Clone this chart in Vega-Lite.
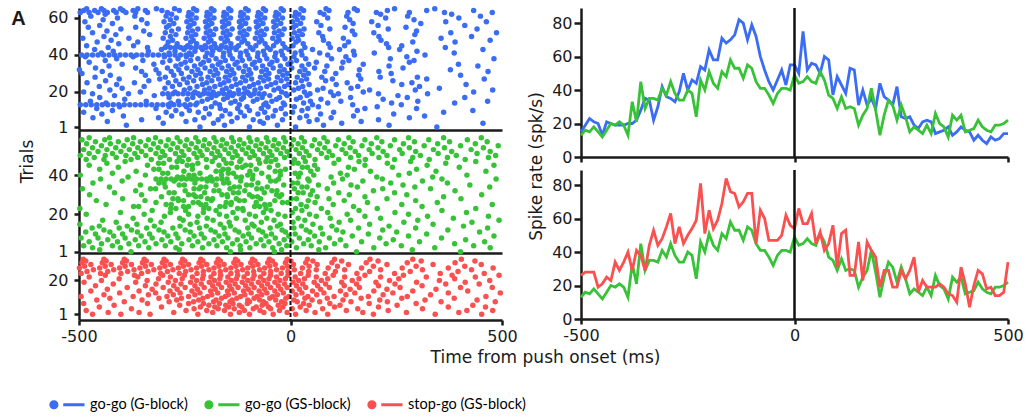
{
"$schema":"https://vega.github.io/schema/vega-lite/v6.json",
"background":"white",
"padding":{"left":10,"top":6,"right":5,"bottom":5},
"bounds":"flush",
"spacing":502,
"config":{
 "view":{"stroke":null},
 "font":"DejaVu Sans",
 "axis":{"grid":false,"domainColor":"#1a1a1a","domainWidth":2.5,"tickColor":"#1a1a1a","tickWidth":2.5,"labelFont":"DejaVu Sans","labelFontSize":16,"labelColor":"#1a1a1a","titleFont":"DejaVu Sans","titleFontSize":17,"titleFontWeight":"normal","titleColor":"#1a1a1a","labelFlush":false,"labelOverlap":false,"labelExpr":"datum.value + ''"}
},
"datasets":{
"B":[
{"t":-214,"r":1},{"t":-97,"r":1},{"t":12,"r":1},{"t":346,"r":1},
{"t":-388,"r":2},{"t":-156,"r":2},{"t":-31,"r":2},{"t":78,"r":2},{"t":233,"r":2},
{"t":-301,"r":3},{"t":-182,"r":3},{"t":-64,"r":3},{"t":121,"r":3},{"t":455,"r":3},
{"t":-433,"r":4},{"t":-247,"r":4},{"t":-139,"r":4},{"t":-72,"r":4},{"t":44,"r":4},{"t":167,"r":4},
{"t":-352,"r":5},{"t":-226,"r":5},{"t":-171,"r":5},{"t":-88,"r":5},{"t":-19,"r":5},{"t":63,"r":5},{"t":208,"r":5},
{"t":-467,"r":6},{"t":-312,"r":6},{"t":-205,"r":6},{"t":-126,"r":6},{"t":-54,"r":6},{"t":22,"r":6},{"t":96,"r":6},{"t":281,"r":6},
{"t":-395,"r":7},{"t":-281,"r":7},{"t":-162,"r":7},{"t":-109,"r":7},{"t":-41,"r":7},{"t":38,"r":7},{"t":149,"r":7},{"t":317,"r":7},
{"t":-446,"r":8},{"t":-257,"r":8},{"t":-192,"r":8},{"t":-143,"r":8},{"t":-77,"r":8},{"t":-12,"r":8},{"t":71,"r":8},{"t":244,"r":8},
{"t":-489,"r":9},{"t":-294,"r":9},{"t":-218,"r":9},{"t":-118,"r":9},{"t":-61,"r":9},{"t":5,"r":9},{"t":102,"r":9},{"t":362,"r":9},
{"t":-421,"r":10},{"t":-271,"r":10},{"t":-239,"r":10},{"t":-154,"r":10},{"t":-97,"r":10},{"t":-36,"r":10},{"t":27,"r":10},{"t":158,"r":10},{"t":431,"r":10},
{"t":-458,"r":11},{"t":-318,"r":11},{"t":-201,"r":11},{"t":-166,"r":11},{"t":-125,"r":11},{"t":-69,"r":11},{"t":-22,"r":11},{"t":41,"r":11},{"t":176,"r":11},{"t":298,"r":11},
{"t":-404,"r":12},{"t":-287,"r":12},{"t":-246,"r":12},{"t":-187,"r":12},{"t":-103,"r":12},{"t":-53,"r":12},{"t":9,"r":12},{"t":66,"r":12},{"t":205,"r":12},
{"t":-497,"r":13},{"t":-484,"r":13},{"t":-471,"r":13},{"t":-458,"r":13},{"t":-445,"r":13},{"t":-432,"r":13},{"t":-419,"r":13},{"t":-406,"r":13},{"t":-393,"r":13},{"t":-380,"r":13},{"t":-367,"r":13},{"t":-354,"r":13},{"t":-341,"r":13},{"t":-328,"r":13},{"t":-315,"r":13},{"t":-302,"r":13},{"t":-289,"r":13},{"t":-276,"r":13},{"t":-263,"r":13},{"t":-250,"r":13},{"t":-237,"r":13},{"t":-224,"r":13},{"t":-168,"r":13},{"t":-121,"r":13},{"t":-63,"r":13},{"t":-14,"r":13},{"t":52,"r":13},{"t":147,"r":13},{"t":262,"r":13},
{"t":-436,"r":14},{"t":-283,"r":14},{"t":-221,"r":14},{"t":-178,"r":14},{"t":-141,"r":14},{"t":-58,"r":14},{"t":-17,"r":14},{"t":31,"r":14},{"t":88,"r":14},{"t":239,"r":14},{"t":388,"r":14},
{"t":-473,"r":15},{"t":-341,"r":15},{"t":-265,"r":15},{"t":-209,"r":15},{"t":-131,"r":15},{"t":-88,"r":15},{"t":-44,"r":15},{"t":47,"r":15},{"t":119,"r":15},{"t":301,"r":15},{"t":466,"r":15},
{"t":-392,"r":16},{"t":-244,"r":16},{"t":-196,"r":16},{"t":-158,"r":16},{"t":-116,"r":16},{"t":-79,"r":16},{"t":-33,"r":16},{"t":14,"r":16},{"t":72,"r":16},{"t":219,"r":16},
{"t":-451,"r":17},{"t":-287,"r":17},{"t":-231,"r":17},{"t":-187,"r":17},{"t":-149,"r":17},{"t":-111,"r":17},{"t":-67,"r":17},{"t":-26,"r":17},{"t":23,"r":17},{"t":142,"r":17},{"t":276,"r":17},{"t":412,"r":17},
{"t":-416,"r":18},{"t":-322,"r":18},{"t":-214,"r":18},{"t":-176,"r":18},{"t":-137,"r":18},{"t":-94,"r":18},{"t":-49,"r":18},{"t":-8,"r":18},{"t":39,"r":18},{"t":102,"r":18},{"t":254,"r":18},
{"t":-468,"r":19},{"t":-383,"r":19},{"t":-302,"r":19},{"t":-290,"r":19},{"t":-278,"r":19},{"t":-266,"r":19},{"t":-254,"r":19},{"t":-242,"r":19},{"t":-230,"r":19},{"t":-218,"r":19},{"t":-206,"r":19},{"t":-194,"r":19},{"t":-182,"r":19},{"t":-170,"r":19},{"t":-158,"r":19},{"t":-146,"r":19},{"t":-134,"r":19},{"t":-122,"r":19},{"t":-110,"r":19},{"t":-98,"r":19},{"t":-86,"r":19},{"t":-74,"r":19},{"t":-62,"r":19},{"t":-11,"r":19},{"t":46,"r":19},{"t":113,"r":19},{"t":208,"r":19},{"t":324,"r":19},
{"t":-489,"r":20},{"t":-355,"r":20},{"t":-273,"r":20},{"t":-226,"r":20},{"t":-183,"r":20},{"t":-144,"r":20},{"t":-102,"r":20},{"t":-21,"r":20},{"t":33,"r":20},{"t":95,"r":20},{"t":172,"r":20},{"t":433,"r":20},
{"t":-427,"r":21},{"t":-251,"r":21},{"t":-203,"r":21},{"t":-161,"r":21},{"t":-123,"r":21},{"t":-84,"r":21},{"t":-39,"r":21},{"t":8,"r":21},{"t":64,"r":21},{"t":187,"r":21},{"t":295,"r":21},{"t":478,"r":21},
{"t":-398,"r":22},{"t":-297,"r":22},{"t":-238,"r":22},{"t":-192,"r":22},{"t":-152,"r":22},{"t":-109,"r":22},{"t":-71,"r":22},{"t":-28,"r":22},{"t":19,"r":22},{"t":77,"r":22},{"t":143,"r":22},{"t":352,"r":22},
{"t":-452,"r":23},{"t":-346,"r":23},{"t":-279,"r":23},{"t":-221,"r":23},{"t":-179,"r":23},{"t":-139,"r":23},{"t":-97,"r":23},{"t":-56,"r":23},{"t":-14,"r":23},{"t":29,"r":23},{"t":159,"r":23},{"t":305,"r":23},
{"t":-411,"r":24},{"t":-262,"r":24},{"t":-208,"r":24},{"t":-166,"r":24},{"t":-128,"r":24},{"t":-87,"r":24},{"t":-46,"r":24},{"t":-5,"r":24},{"t":44,"r":24},{"t":108,"r":24},{"t":263,"r":24},{"t":415,"r":24},
{"t":-481,"r":25},{"t":-369,"r":25},{"t":-289,"r":25},{"t":-244,"r":25},{"t":-198,"r":25},{"t":-157,"r":25},{"t":-118,"r":25},{"t":-76,"r":25},{"t":-35,"r":25},{"t":12,"r":25},{"t":134,"r":25},{"t":287,"r":25},
{"t":-437,"r":26},{"t":-335,"r":26},{"t":-271,"r":26},{"t":-229,"r":26},{"t":-186,"r":26},{"t":-146,"r":26},{"t":-106,"r":26},{"t":-63,"r":26},{"t":-22,"r":26},{"t":26,"r":26},{"t":83,"r":26},{"t":242,"r":26},
{"t":-405,"r":27},{"t":-309,"r":27},{"t":-253,"r":27},{"t":-211,"r":27},{"t":-170,"r":27},{"t":-131,"r":27},{"t":-92,"r":27},{"t":-52,"r":27},{"t":-9,"r":27},{"t":38,"r":27},{"t":99,"r":27},{"t":166,"r":27},{"t":322,"r":27},{"t":458,"r":27},
{"t":-462,"r":28},{"t":-296,"r":28},{"t":-240,"r":28},{"t":-195,"r":28},{"t":-154,"r":28},{"t":-113,"r":28},{"t":-71,"r":28},{"t":-31,"r":28},{"t":16,"r":28},{"t":74,"r":28},{"t":212,"r":28},{"t":300,"r":28},
{"t":-426,"r":29},{"t":-343,"r":29},{"t":-276,"r":29},{"t":-224,"r":29},{"t":-181,"r":29},{"t":-143,"r":29},{"t":-101,"r":29},{"t":-59,"r":29},{"t":-18,"r":29},{"t":31,"r":29},{"t":161,"r":29},{"t":402,"r":29},
{"t":-493,"r":30},{"t":-311,"r":30},{"t":-258,"r":30},{"t":-213,"r":30},{"t":-172,"r":30},{"t":-134,"r":30},{"t":-94,"r":30},{"t":-51,"r":30},{"t":-7,"r":30},{"t":42,"r":30},{"t":107,"r":30},{"t":238,"r":30},
{"t":-445,"r":31},{"t":-352,"r":31},{"t":-282,"r":31},{"t":-233,"r":31},{"t":-190,"r":31},{"t":-151,"r":31},{"t":-111,"r":31},{"t":-68,"r":31},{"t":-26,"r":31},{"t":22,"r":31},{"t":81,"r":31},{"t":209,"r":31},{"t":467,"r":31},
{"t":-499,"r":32},{"t":-318,"r":32},{"t":-264,"r":32},{"t":-219,"r":32},{"t":-177,"r":32},{"t":-139,"r":32},{"t":-98,"r":32},{"t":-57,"r":32},{"t":-15,"r":32},{"t":34,"r":32},{"t":163,"r":32},{"t":378,"r":32},
{"t":-461,"r":33},{"t":-366,"r":33},{"t":-291,"r":33},{"t":-245,"r":33},{"t":-202,"r":33},{"t":-162,"r":33},{"t":-122,"r":33},{"t":-82,"r":33},{"t":-41,"r":33},{"t":3,"r":33},{"t":57,"r":33},{"t":121,"r":33},{"t":266,"r":33},
{"t":-429,"r":34},{"t":-271,"r":34},{"t":-227,"r":34},{"t":-185,"r":34},{"t":-147,"r":34},{"t":-107,"r":34},{"t":-66,"r":34},{"t":-24,"r":34},{"t":27,"r":34},{"t":86,"r":34},{"t":233,"r":34},{"t":443,"r":34},
{"t":-398,"r":35},{"t":-323,"r":35},{"t":-259,"r":35},{"t":-212,"r":35},{"t":-171,"r":35},{"t":-131,"r":35},{"t":-90,"r":35},{"t":-49,"r":35},{"t":-6,"r":35},{"t":43,"r":35},{"t":172,"r":35},{"t":397,"r":35},
{"t":-476,"r":36},{"t":-302,"r":36},{"t":-249,"r":36},{"t":-206,"r":36},{"t":-166,"r":36},{"t":-126,"r":36},{"t":-85,"r":36},{"t":-44,"r":36},{"t":1,"r":36},{"t":61,"r":36},{"t":124,"r":36},{"t":281,"r":36},
{"t":-438,"r":37},{"t":-349,"r":37},{"t":-285,"r":37},{"t":-236,"r":37},{"t":-193,"r":37},{"t":-154,"r":37},{"t":-114,"r":37},{"t":-73,"r":37},{"t":-32,"r":37},{"t":14,"r":37},{"t":138,"r":37},{"t":292,"r":37},
{"t":-411,"r":38},{"t":-266,"r":38},{"t":-219,"r":38},{"t":-176,"r":38},{"t":-137,"r":38},{"t":-97,"r":38},{"t":-56,"r":38},{"t":-13,"r":38},{"t":36,"r":38},{"t":97,"r":38},{"t":236,"r":38},{"t":481,"r":38},
{"t":-485,"r":39},{"t":-372,"r":39},{"t":-298,"r":39},{"t":-246,"r":39},{"t":-201,"r":39},{"t":-159,"r":39},{"t":-119,"r":39},{"t":-78,"r":39},{"t":-37,"r":39},{"t":8,"r":39},{"t":131,"r":39},{"t":275,"r":39},
{"t":-494,"r":40},{"t":-481,"r":40},{"t":-468,"r":40},{"t":-455,"r":40},{"t":-442,"r":40},{"t":-429,"r":40},{"t":-416,"r":40},{"t":-403,"r":40},{"t":-390,"r":40},{"t":-377,"r":40},{"t":-364,"r":40},{"t":-351,"r":40},{"t":-338,"r":40},{"t":-325,"r":40},{"t":-312,"r":40},{"t":-299,"r":40},{"t":-286,"r":40},{"t":-273,"r":40},{"t":-260,"r":40},{"t":-247,"r":40},{"t":-234,"r":40},{"t":-186,"r":40},{"t":-143,"r":40},{"t":-101,"r":40},{"t":-61,"r":40},{"t":-19,"r":40},{"t":27,"r":40},{"t":88,"r":40},{"t":151,"r":40},{"t":318,"r":40},
{"t":-447,"r":41},{"t":-287,"r":41},{"t":-239,"r":41},{"t":-197,"r":41},{"t":-158,"r":41},{"t":-118,"r":41},{"t":-77,"r":41},{"t":-35,"r":41},{"t":11,"r":41},{"t":69,"r":41},{"t":198,"r":41},{"t":387,"r":41},
{"t":-419,"r":42},{"t":-336,"r":42},{"t":-273,"r":42},{"t":-226,"r":42},{"t":-184,"r":42},{"t":-145,"r":42},{"t":-105,"r":42},{"t":-64,"r":42},{"t":-22,"r":42},{"t":25,"r":42},{"t":149,"r":42},{"t":299,"r":42},
{"t":-463,"r":43},{"t":-305,"r":43},{"t":-252,"r":43},{"t":-208,"r":43},{"t":-168,"r":43},{"t":-129,"r":43},{"t":-89,"r":43},{"t":-48,"r":43},{"t":-4,"r":43},{"t":52,"r":43},{"t":116,"r":43},{"t":258,"r":43},{"t":455,"r":43},
{"t":-431,"r":44},{"t":-338,"r":44},{"t":-296,"r":44},{"t":-284,"r":44},{"t":-272,"r":44},{"t":-260,"r":44},{"t":-248,"r":44},{"t":-236,"r":44},{"t":-224,"r":44},{"t":-212,"r":44},{"t":-200,"r":44},{"t":-188,"r":44},{"t":-176,"r":44},{"t":-164,"r":44},{"t":-152,"r":44},{"t":-140,"r":44},{"t":-128,"r":44},{"t":-95,"r":44},{"t":-55,"r":44},{"t":-13,"r":44},{"t":34,"r":44},{"t":94,"r":44},{"t":232,"r":44},{"t":366,"r":44},
{"t":-482,"r":45},{"t":-371,"r":45},{"t":-292,"r":45},{"t":-243,"r":45},{"t":-202,"r":45},{"t":-163,"r":45},{"t":-123,"r":45},{"t":-82,"r":45},{"t":-40,"r":45},{"t":6,"r":45},{"t":128,"r":45},{"t":263,"r":45},
{"t":-406,"r":46},{"t":-268,"r":46},{"t":-222,"r":46},{"t":-180,"r":46},{"t":-141,"r":46},{"t":-101,"r":46},{"t":-60,"r":46},{"t":-18,"r":46},{"t":30,"r":46},{"t":90,"r":46},{"t":227,"r":46},
{"t":-457,"r":47},{"t":-361,"r":47},{"t":-289,"r":47},{"t":-236,"r":47},{"t":-194,"r":47},{"t":-155,"r":47},{"t":-115,"r":47},{"t":-74,"r":47},{"t":-33,"r":47},{"t":13,"r":47},{"t":137,"r":47},{"t":289,"r":47},{"t":389,"r":47},
{"t":-424,"r":48},{"t":-279,"r":48},{"t":-230,"r":48},{"t":-188,"r":48},{"t":-149,"r":48},{"t":-109,"r":48},{"t":-68,"r":48},{"t":-27,"r":48},{"t":19,"r":48},{"t":78,"r":48},{"t":214,"r":48},{"t":472,"r":48},
{"t":-491,"r":49},{"t":-382,"r":49},{"t":-301,"r":49},{"t":-247,"r":49},{"t":-204,"r":49},{"t":-164,"r":49},{"t":-124,"r":49},{"t":-83,"r":49},{"t":-42,"r":49},{"t":4,"r":49},{"t":125,"r":49},{"t":356,"r":49},
{"t":-441,"r":50},{"t":-284,"r":50},{"t":-234,"r":50},{"t":-192,"r":50},{"t":-152,"r":50},{"t":-112,"r":50},{"t":-71,"r":50},{"t":-29,"r":50},{"t":17,"r":50},{"t":76,"r":50},{"t":209,"r":50},{"t":428,"r":50},
{"t":-413,"r":51},{"t":-333,"r":51},{"t":-271,"r":51},{"t":-224,"r":51},{"t":-182,"r":51},{"t":-143,"r":51},{"t":-103,"r":51},{"t":-62,"r":51},{"t":-20,"r":51},{"t":28,"r":51},{"t":152,"r":51},{"t":294,"r":51},
{"t":-468,"r":52},{"t":-296,"r":52},{"t":-243,"r":52},{"t":-199,"r":52},{"t":-159,"r":52},{"t":-119,"r":52},{"t":-79,"r":52},{"t":-38,"r":52},{"t":9,"r":52},{"t":67,"r":52},{"t":197,"r":52},{"t":379,"r":52},{"t":487,"r":52},
{"t":-434,"r":53},{"t":-347,"r":53},{"t":-281,"r":53},{"t":-232,"r":53},{"t":-190,"r":53},{"t":-150,"r":53},{"t":-110,"r":53},{"t":-69,"r":53},{"t":-27,"r":53},{"t":21,"r":53},{"t":146,"r":53},{"t":298,"r":53},
{"t":-401,"r":54},{"t":-265,"r":54},{"t":-219,"r":54},{"t":-177,"r":54},{"t":-138,"r":54},{"t":-98,"r":54},{"t":-57,"r":54},{"t":-15,"r":54},{"t":32,"r":54},{"t":93,"r":54},{"t":231,"r":54},{"t":441,"r":54},
{"t":-478,"r":55},{"t":-366,"r":55},{"t":-293,"r":55},{"t":-241,"r":55},{"t":-199,"r":55},{"t":-160,"r":55},{"t":-120,"r":55},{"t":-80,"r":55},{"t":-39,"r":55},{"t":7,"r":55},{"t":129,"r":55},{"t":273,"r":55},
{"t":-451,"r":56},{"t":-287,"r":56},{"t":-237,"r":56},{"t":-194,"r":56},{"t":-155,"r":56},{"t":-116,"r":56},{"t":-75,"r":56},{"t":-34,"r":56},{"t":13,"r":56},{"t":72,"r":56},{"t":207,"r":56},{"t":412,"r":56},
{"t":-421,"r":57},{"t":-339,"r":57},{"t":-276,"r":57},{"t":-228,"r":57},{"t":-186,"r":57},{"t":-146,"r":57},{"t":-106,"r":57},{"t":-65,"r":57},{"t":-23,"r":57},{"t":24,"r":57},{"t":148,"r":57},{"t":308,"r":57},
{"t":-486,"r":58},{"t":-299,"r":58},{"t":-245,"r":58},{"t":-201,"r":58},{"t":-161,"r":58},{"t":-121,"r":58},{"t":-81,"r":58},{"t":-40,"r":58},{"t":5,"r":58},{"t":62,"r":58},{"t":192,"r":58},{"t":367,"r":58},{"t":463,"r":58},
{"t":-443,"r":59},{"t":-352,"r":59},{"t":-284,"r":59},{"t":-235,"r":59},{"t":-192,"r":59},{"t":-153,"r":59},{"t":-113,"r":59},{"t":-72,"r":59},{"t":-31,"r":59},{"t":16,"r":59},{"t":140,"r":59},{"t":292,"r":59},
{"t":-409,"r":60},{"t":-270,"r":60},{"t":-223,"r":60},{"t":-181,"r":60},{"t":-142,"r":60},{"t":-102,"r":60},{"t":-61,"r":60},{"t":-19,"r":60},{"t":29,"r":60},{"t":88,"r":60},{"t":225,"r":60},{"t":398,"r":60},
{"t":-472,"r":61},{"t":-368,"r":61},{"t":-294,"r":61},{"t":-242,"r":61},{"t":-198,"r":61},{"t":-158,"r":61},{"t":-118,"r":61},{"t":-78,"r":61},{"t":-36,"r":61},{"t":10,"r":61},{"t":133,"r":61},{"t":277,"r":61},{"t":449,"r":61},
{"t":-438,"r":62},{"t":-281,"r":62},{"t":-233,"r":62},{"t":-190,"r":62},{"t":-151,"r":62},{"t":-111,"r":62},{"t":-70,"r":62},{"t":-28,"r":62},{"t":20,"r":62},{"t":79,"r":62},{"t":213,"r":62},{"t":381,"r":62},
{"t":-497,"r":63},{"t":-476,"r":63},{"t":-455,"r":63},{"t":-433,"r":63},{"t":-412,"r":63},{"t":-389,"r":63},{"t":-366,"r":63},{"t":-338,"r":63},{"t":-291,"r":63},{"t":-240,"r":63},{"t":-197,"r":63},{"t":-157,"r":63},{"t":-117,"r":63},{"t":-76,"r":63},{"t":-34,"r":63},{"t":12,"r":63},{"t":70,"r":63},{"t":136,"r":63},{"t":203,"r":63},{"t":281,"r":63},{"t":364,"r":63},{"t":477,"r":63},
{"t":-489,"r":64},{"t":-463,"r":64},{"t":-441,"r":64},{"t":-418,"r":64},{"t":-396,"r":64},{"t":-372,"r":64},{"t":-343,"r":64},{"t":-304,"r":64},{"t":-263,"r":64},{"t":-222,"r":64},{"t":-181,"r":64},{"t":-141,"r":64},{"t":-100,"r":64},{"t":-59,"r":64},{"t":-17,"r":64},{"t":31,"r":64},{"t":91,"r":64},{"t":158,"r":64},{"t":229,"r":64},{"t":322,"r":64},{"t":433,"r":64},
{"t":-482,"r":65},{"t":-447,"r":65},{"t":-402,"r":65},{"t":-361,"r":65},{"t":-317,"r":65},{"t":-274,"r":65},{"t":-229,"r":65},{"t":-187,"r":65},{"t":-146,"r":65},{"t":-106,"r":65},{"t":-64,"r":65},{"t":-22,"r":65},{"t":25,"r":65},{"t":84,"r":65},{"t":151,"r":65},{"t":246,"r":65},{"t":341,"r":65}
],
"G":[
{"t":-377,"r":1},{"t":-142,"r":1},{"t":-38,"r":1},{"t":156,"r":1},{"t":402,"r":1},
{"t":-451,"r":2},{"t":-263,"r":2},{"t":-118,"r":2},{"t":-21,"r":2},{"t":67,"r":2},{"t":288,"r":2},
{"t":-468,"r":3},{"t":-402,"r":3},{"t":-335,"r":3},{"t":-271,"r":3},{"t":-208,"r":3},{"t":-151,"r":3},{"t":-96,"r":3},{"t":-42,"r":3},{"t":14,"r":3},{"t":83,"r":3},{"t":197,"r":3},{"t":341,"r":3},{"t":472,"r":3},
{"t":-489,"r":4},{"t":-421,"r":4},{"t":-359,"r":4},{"t":-296,"r":4},{"t":-232,"r":4},{"t":-174,"r":4},{"t":-119,"r":4},{"t":-63,"r":4},{"t":-9,"r":4},{"t":49,"r":4},{"t":131,"r":4},{"t":262,"r":4},{"t":433,"r":4},
{"t":-447,"r":5},{"t":-382,"r":5},{"t":-318,"r":5},{"t":-257,"r":5},{"t":-193,"r":5},{"t":-137,"r":5},{"t":-81,"r":5},{"t":-27,"r":5},{"t":31,"r":5},{"t":104,"r":5},{"t":226,"r":5},{"t":388,"r":5},
{"t":-476,"r":6},{"t":-409,"r":6},{"t":-344,"r":6},{"t":-283,"r":6},{"t":-219,"r":6},{"t":-161,"r":6},{"t":-105,"r":6},{"t":-51,"r":6},{"t":3,"r":6},{"t":68,"r":6},{"t":168,"r":6},{"t":305,"r":6},{"t":459,"r":6},
{"t":-432,"r":7},{"t":-367,"r":7},{"t":-304,"r":7},{"t":-240,"r":7},{"t":-181,"r":7},{"t":-126,"r":7},{"t":-70,"r":7},{"t":-15,"r":7},{"t":42,"r":7},{"t":118,"r":7},{"t":243,"r":7},{"t":414,"r":7},
{"t":-495,"r":8},{"t":-455,"r":8},{"t":-391,"r":8},{"t":-327,"r":8},{"t":-266,"r":8},{"t":-204,"r":8},{"t":-148,"r":8},{"t":-92,"r":8},{"t":-36,"r":8},{"t":21,"r":8},{"t":92,"r":8},{"t":211,"r":8},{"t":357,"r":8},
{"t":-418,"r":9},{"t":-353,"r":9},{"t":-290,"r":9},{"t":-228,"r":9},{"t":-169,"r":9},{"t":-112,"r":9},{"t":-58,"r":9},{"t":-4,"r":9},{"t":57,"r":9},{"t":146,"r":9},{"t":279,"r":9},{"t":481,"r":9},
{"t":-461,"r":10},{"t":-397,"r":10},{"t":-333,"r":10},{"t":-271,"r":10},{"t":-211,"r":10},{"t":-155,"r":10},{"t":-99,"r":10},{"t":-45,"r":10},{"t":11,"r":10},{"t":76,"r":10},{"t":184,"r":10},{"t":322,"r":10},
{"t":-484,"r":11},{"t":-427,"r":11},{"t":-362,"r":11},{"t":-299,"r":11},{"t":-237,"r":11},{"t":-178,"r":11},{"t":-122,"r":11},{"t":-66,"r":11},{"t":-12,"r":11},{"t":46,"r":11},{"t":124,"r":11},{"t":251,"r":11},{"t":447,"r":11},
{"t":-441,"r":12},{"t":-376,"r":12},{"t":-311,"r":12},{"t":-249,"r":12},{"t":-188,"r":12},{"t":-131,"r":12},{"t":-75,"r":12},{"t":-20,"r":12},{"t":37,"r":12},{"t":109,"r":12},{"t":218,"r":12},{"t":372,"r":12},
{"t":-469,"r":13},{"t":-405,"r":13},{"t":-340,"r":13},{"t":-278,"r":13},{"t":-215,"r":13},{"t":-157,"r":13},{"t":-101,"r":13},{"t":-48,"r":13},{"t":8,"r":13},{"t":71,"r":13},{"t":161,"r":13},{"t":296,"r":13},{"t":466,"r":13},
{"t":-452,"r":14},{"t":-386,"r":14},{"t":-322,"r":14},{"t":-261,"r":14},{"t":-199,"r":14},{"t":-142,"r":14},{"t":-86,"r":14},{"t":-31,"r":14},{"t":26,"r":14},{"t":98,"r":14},{"t":233,"r":14},{"t":409,"r":14},
{"t":-498,"r":15},{"t":-363,"r":15},{"t":-237,"r":15},{"t":-166,"r":15},{"t":-91,"r":15},{"t":-24,"r":15},{"t":53,"r":15},{"t":187,"r":15},{"t":337,"r":15},
{"t":-412,"r":16},{"t":-306,"r":16},{"t":-221,"r":16},{"t":-145,"r":16},{"t":-69,"r":16},{"t":6,"r":16},{"t":115,"r":16},{"t":268,"r":16},{"t":429,"r":16},
{"t":-444,"r":17},{"t":-331,"r":17},{"t":-254,"r":17},{"t":-183,"r":17},{"t":-107,"r":17},{"t":-39,"r":17},{"t":34,"r":17},{"t":142,"r":17},{"t":301,"r":17},{"t":493,"r":17},
{"t":-372,"r":18},{"t":-262,"r":18},{"t":-197,"r":18},{"t":-128,"r":18},{"t":-56,"r":18},{"t":18,"r":18},{"t":94,"r":18},{"t":213,"r":18},{"t":385,"r":18},
{"t":-298,"r":19},{"t":-219,"r":19},{"t":-151,"r":19},{"t":-83,"r":19},{"t":-13,"r":19},{"t":61,"r":19},{"t":176,"r":19},{"t":324,"r":19},{"t":468,"r":19},
{"t":-483,"r":20},{"t":-346,"r":20},{"t":-241,"r":20},{"t":-168,"r":20},{"t":-97,"r":20},{"t":-29,"r":20},{"t":45,"r":20},{"t":134,"r":20},{"t":279,"r":20},
{"t":-402,"r":21},{"t":-284,"r":21},{"t":-206,"r":21},{"t":-136,"r":21},{"t":-64,"r":21},{"t":4,"r":21},{"t":88,"r":21},{"t":247,"r":21},{"t":416,"r":21},
{"t":-327,"r":22},{"t":-248,"r":22},{"t":-176,"r":22},{"t":-112,"r":22},{"t":-46,"r":22},{"t":27,"r":22},{"t":162,"r":22},{"t":358,"r":22},
{"t":-498,"r":23},{"t":-283,"r":23},{"t":-271,"r":23},{"t":-205,"r":23},{"t":-193,"r":23},{"t":-125,"r":23},{"t":-113,"r":23},{"t":-58,"r":23},{"t":12,"r":23},{"t":73,"r":23},{"t":205,"r":23},{"t":438,"r":23},
{"t":-371,"r":24},{"t":-359,"r":24},{"t":-253,"r":24},{"t":-241,"r":24},{"t":-167,"r":24},{"t":-155,"r":24},{"t":-85,"r":24},{"t":-73,"r":24},{"t":38,"r":24},{"t":149,"r":24},{"t":311,"r":24},
{"t":-436,"r":25},{"t":-294,"r":25},{"t":-282,"r":25},{"t":-212,"r":25},{"t":-200,"r":25},{"t":-141,"r":25},{"t":-61,"r":25},{"t":-49,"r":25},{"t":25,"r":25},{"t":101,"r":25},{"t":263,"r":25},{"t":477,"r":25},
{"t":-318,"r":26},{"t":-230,"r":26},{"t":-218,"r":26},{"t":-152,"r":26},{"t":-140,"r":26},{"t":-81,"r":26},{"t":-19,"r":26},{"t":-7,"r":26},{"t":58,"r":26},{"t":182,"r":26},{"t":347,"r":26},
{"t":-459,"r":27},{"t":-344,"r":27},{"t":-265,"r":27},{"t":-253,"r":27},{"t":-187,"r":27},{"t":-121,"r":27},{"t":-109,"r":27},{"t":-37,"r":27},{"t":42,"r":27},{"t":127,"r":27},{"t":296,"r":27},
{"t":-397,"r":28},{"t":-278,"r":28},{"t":-266,"r":28},{"t":-196,"r":28},{"t":-184,"r":28},{"t":-128,"r":28},{"t":-71,"r":28},{"t":2,"r":28},{"t":14,"r":28},{"t":91,"r":28},{"t":228,"r":28},{"t":403,"r":28},
{"t":-305,"r":29},{"t":-224,"r":29},{"t":-212,"r":29},{"t":-149,"r":29},{"t":-90,"r":29},{"t":-78,"r":29},{"t":-26,"r":29},{"t":63,"r":29},{"t":176,"r":29},{"t":362,"r":29},
{"t":-475,"r":30},{"t":-352,"r":30},{"t":-241,"r":30},{"t":-229,"r":30},{"t":-162,"r":30},{"t":-150,"r":30},{"t":-97,"r":30},{"t":-33,"r":30},{"t":-21,"r":30},{"t":47,"r":30},{"t":139,"r":30},{"t":275,"r":30},{"t":452,"r":30},
{"t":-416,"r":31},{"t":-287,"r":31},{"t":-275,"r":31},{"t":-203,"r":31},{"t":-135,"r":31},{"t":-123,"r":31},{"t":-62,"r":31},{"t":18,"r":31},{"t":30,"r":31},{"t":114,"r":31},{"t":246,"r":31},
{"t":-366,"r":32},{"t":-249,"r":32},{"t":-181,"r":32},{"t":-169,"r":32},{"t":-108,"r":32},{"t":-44,"r":32},{"t":-32,"r":32},{"t":52,"r":32},{"t":196,"r":32},{"t":389,"r":32},
{"t":-492,"r":33},{"t":-331,"r":33},{"t":-319,"r":33},{"t":-228,"r":33},{"t":-216,"r":33},{"t":-143,"r":33},{"t":-80,"r":33},{"t":-68,"r":33},{"t":9,"r":33},{"t":87,"r":33},{"t":218,"r":33},{"t":331,"r":33},
{"t":-428,"r":34},{"t":-296,"r":34},{"t":-212,"r":34},{"t":-200,"r":34},{"t":-133,"r":34},{"t":-121,"r":34},{"t":-55,"r":34},{"t":27,"r":34},{"t":39,"r":34},{"t":158,"r":34},{"t":294,"r":34},{"t":471,"r":34},
{"t":-355,"r":35},{"t":-263,"r":35},{"t":-251,"r":35},{"t":-176,"r":35},{"t":-104,"r":35},{"t":-92,"r":35},{"t":-16,"r":35},{"t":66,"r":35},{"t":143,"r":35},{"t":266,"r":35},{"t":424,"r":35},
{"t":-467,"r":36},{"t":-311,"r":36},{"t":-299,"r":36},{"t":-226,"r":36},{"t":-158,"r":36},{"t":-146,"r":36},{"t":-77,"r":36},{"t":5,"r":36},{"t":17,"r":36},{"t":102,"r":36},{"t":237,"r":36},{"t":371,"r":36},
{"t":-398,"r":37},{"t":-275,"r":37},{"t":-197,"r":37},{"t":-185,"r":37},{"t":-118,"r":37},{"t":-47,"r":37},{"t":-35,"r":37},{"t":44,"r":37},{"t":171,"r":37},{"t":312,"r":37},
{"t":-449,"r":38},{"t":-318,"r":38},{"t":-306,"r":38},{"t":-294,"r":38},{"t":-282,"r":38},{"t":-270,"r":38},{"t":-258,"r":38},{"t":-246,"r":38},{"t":-234,"r":38},{"t":-222,"r":38},{"t":-210,"r":38},{"t":-198,"r":38},{"t":-186,"r":38},{"t":-174,"r":38},{"t":-162,"r":38},{"t":-150,"r":38},{"t":-90,"r":38},{"t":-28,"r":38},{"t":41,"r":38},{"t":123,"r":38},{"t":217,"r":38},{"t":358,"r":38},{"t":486,"r":38},
{"t":-384,"r":39},{"t":-267,"r":39},{"t":-255,"r":39},{"t":-189,"r":39},{"t":-128,"r":39},{"t":-116,"r":39},{"t":-52,"r":39},{"t":19,"r":39},{"t":96,"r":39},{"t":204,"r":39},{"t":336,"r":39},
{"t":-497,"r":40},{"t":-343,"r":40},{"t":-240,"r":40},{"t":-228,"r":40},{"t":-163,"r":40},{"t":-101,"r":40},{"t":-89,"r":40},{"t":-24,"r":40},{"t":55,"r":40},{"t":134,"r":40},{"t":256,"r":40},{"t":417,"r":40},
{"t":-421,"r":41},{"t":-302,"r":41},{"t":-290,"r":41},{"t":-214,"r":41},{"t":-147,"r":41},{"t":-135,"r":41},{"t":-68,"r":41},{"t":11,"r":41},{"t":23,"r":41},{"t":118,"r":41},{"t":281,"r":41},
{"t":-365,"r":42},{"t":-252,"r":42},{"t":-176,"r":42},{"t":-164,"r":42},{"t":-96,"r":42},{"t":-36,"r":42},{"t":-24,"r":42},{"t":48,"r":42},{"t":189,"r":42},{"t":344,"r":42},{"t":462,"r":42},
{"t":-451,"r":43},{"t":-323,"r":43},{"t":-311,"r":43},{"t":-232,"r":43},{"t":-159,"r":43},{"t":-147,"r":43},{"t":-81,"r":43},{"t":-12,"r":43},{"t":64,"r":43},{"t":151,"r":43},{"t":298,"r":43},
{"t":-407,"r":44},{"t":-281,"r":44},{"t":-269,"r":44},{"t":-198,"r":44},{"t":-126,"r":44},{"t":-114,"r":44},{"t":-50,"r":44},{"t":28,"r":44},{"t":40,"r":44},{"t":137,"r":44},{"t":241,"r":44},{"t":399,"r":44},
{"t":-476,"r":45},{"t":-338,"r":45},{"t":-244,"r":45},{"t":-232,"r":45},{"t":-169,"r":45},{"t":-106,"r":45},{"t":-94,"r":45},{"t":-30,"r":45},{"t":57,"r":45},{"t":176,"r":45},{"t":323,"r":45},{"t":481,"r":45},
{"t":-434,"r":46},{"t":-312,"r":46},{"t":-300,"r":46},{"t":-219,"r":46},{"t":-152,"r":46},{"t":-140,"r":46},{"t":-73,"r":46},{"t":6,"r":46},{"t":18,"r":46},{"t":103,"r":46},{"t":229,"r":46},{"t":367,"r":46},
{"t":-391,"r":47},{"t":-268,"r":47},{"t":-256,"r":47},{"t":-185,"r":47},{"t":-120,"r":47},{"t":-58,"r":47},{"t":-46,"r":47},{"t":35,"r":47},{"t":162,"r":47},{"t":284,"r":47},{"t":438,"r":47},
{"t":-483,"r":48},{"t":-441,"r":48},{"t":-377,"r":48},{"t":-329,"r":48},{"t":-286,"r":48},{"t":-241,"r":48},{"t":-199,"r":48},{"t":-158,"r":48},{"t":-117,"r":48},{"t":-76,"r":48},{"t":-35,"r":48},{"t":9,"r":48},{"t":58,"r":48},{"t":114,"r":48},{"t":177,"r":48},{"t":246,"r":48},{"t":328,"r":48},{"t":413,"r":48},
{"t":-464,"r":49},{"t":-412,"r":49},{"t":-361,"r":49},{"t":-308,"r":49},{"t":-263,"r":49},{"t":-221,"r":49},{"t":-178,"r":49},{"t":-137,"r":49},{"t":-96,"r":49},{"t":-55,"r":49},{"t":-14,"r":49},{"t":31,"r":49},{"t":86,"r":49},{"t":142,"r":49},{"t":209,"r":49},{"t":289,"r":49},{"t":371,"r":49},{"t":468,"r":49},
{"t":-497,"r":50},{"t":-438,"r":50},{"t":-389,"r":50},{"t":-342,"r":50},{"t":-297,"r":50},{"t":-252,"r":50},{"t":-209,"r":50},{"t":-167,"r":50},{"t":-126,"r":50},{"t":-85,"r":50},{"t":-44,"r":50},{"t":-2,"r":50},{"t":44,"r":50},{"t":99,"r":50},{"t":161,"r":50},{"t":228,"r":50},{"t":307,"r":50},{"t":392,"r":50},{"t":485,"r":50},
{"t":-476,"r":51},{"t":-421,"r":51},{"t":-368,"r":51},{"t":-318,"r":51},{"t":-272,"r":51},{"t":-228,"r":51},{"t":-186,"r":51},{"t":-146,"r":51},{"t":-105,"r":51},{"t":-64,"r":51},{"t":-23,"r":51},{"t":21,"r":51},{"t":73,"r":51},{"t":131,"r":51},{"t":193,"r":51},{"t":264,"r":51},{"t":349,"r":51},{"t":441,"r":51},
{"t":-455,"r":52},{"t":-401,"r":52},{"t":-352,"r":52},{"t":-303,"r":52},{"t":-257,"r":52},{"t":-214,"r":52},{"t":-172,"r":52},{"t":-131,"r":52},{"t":-90,"r":52},{"t":-49,"r":52},{"t":-8,"r":52},{"t":37,"r":52},{"t":91,"r":52},{"t":153,"r":52},{"t":219,"r":52},{"t":296,"r":52},{"t":381,"r":52},{"t":472,"r":52},
{"t":-489,"r":53},{"t":-434,"r":53},{"t":-381,"r":53},{"t":-331,"r":53},{"t":-284,"r":53},{"t":-240,"r":53},{"t":-197,"r":53},{"t":-155,"r":53},{"t":-114,"r":53},{"t":-73,"r":53},{"t":-32,"r":53},{"t":13,"r":53},{"t":64,"r":53},{"t":122,"r":53},{"t":186,"r":53},{"t":258,"r":53},{"t":338,"r":53},{"t":427,"r":53},
{"t":-468,"r":54},{"t":-413,"r":54},{"t":-361,"r":54},{"t":-313,"r":54},{"t":-267,"r":54},{"t":-223,"r":54},{"t":-181,"r":54},{"t":-140,"r":54},{"t":-99,"r":54},{"t":-58,"r":54},{"t":-17,"r":54},{"t":28,"r":54},{"t":81,"r":54},{"t":141,"r":54},{"t":207,"r":54},{"t":281,"r":54},{"t":364,"r":54},{"t":456,"r":54},
{"t":-447,"r":55},{"t":-394,"r":55},{"t":-342,"r":55},{"t":-294,"r":55},{"t":-249,"r":55},{"t":-206,"r":55},{"t":-164,"r":55},{"t":-123,"r":55},{"t":-82,"r":55},{"t":-41,"r":55},{"t":2,"r":55},{"t":51,"r":55},{"t":107,"r":55},{"t":169,"r":55},{"t":236,"r":55},{"t":316,"r":55},{"t":402,"r":55},{"t":491,"r":55},
{"t":-482,"r":56},{"t":-426,"r":56},{"t":-373,"r":56},{"t":-324,"r":56},{"t":-278,"r":56},{"t":-234,"r":56},{"t":-192,"r":56},{"t":-151,"r":56},{"t":-110,"r":56},{"t":-69,"r":56},{"t":-28,"r":56},{"t":18,"r":56},{"t":69,"r":56},{"t":127,"r":56},{"t":191,"r":56},{"t":267,"r":56},{"t":348,"r":56},{"t":437,"r":56},
{"t":-461,"r":57},{"t":-407,"r":57},{"t":-355,"r":57},{"t":-307,"r":57},{"t":-261,"r":57},{"t":-218,"r":57},{"t":-176,"r":57},{"t":-135,"r":57},{"t":-94,"r":57},{"t":-53,"r":57},{"t":-12,"r":57},{"t":33,"r":57},{"t":87,"r":57},{"t":148,"r":57},{"t":216,"r":57},{"t":293,"r":57},{"t":376,"r":57},{"t":465,"r":57},
{"t":-493,"r":58},{"t":-439,"r":58},{"t":-386,"r":58},{"t":-336,"r":58},{"t":-289,"r":58},{"t":-245,"r":58},{"t":-203,"r":58},{"t":-161,"r":58},{"t":-120,"r":58},{"t":-79,"r":58},{"t":-38,"r":58},{"t":7,"r":58},{"t":57,"r":58},{"t":113,"r":58},{"t":176,"r":58},{"t":246,"r":58},{"t":327,"r":58},{"t":418,"r":58},
{"t":-476,"r":59},{"t":-428,"r":59},{"t":-371,"r":59},{"t":-319,"r":59},{"t":-268,"r":59},{"t":-224,"r":59},{"t":-181,"r":59},{"t":-139,"r":59},{"t":-98,"r":59},{"t":-57,"r":59},{"t":-16,"r":59},{"t":26,"r":59},{"t":79,"r":59},{"t":138,"r":59},{"t":204,"r":59},{"t":279,"r":59},{"t":362,"r":59},{"t":451,"r":59}
],
"R":[
{"t":-468,"r":1},{"t":-401,"r":1},{"t":-332,"r":1},{"t":-219,"r":1},{"t":-142,"r":1},{"t":-97,"r":1},{"t":-41,"r":1},{"t":12,"r":1},{"t":88,"r":1},{"t":196,"r":1},{"t":342,"r":1},{"t":452,"r":1},
{"t":-431,"r":2},{"t":-358,"r":2},{"t":-276,"r":2},{"t":-184,"r":2},{"t":-121,"r":2},{"t":-63,"r":2},{"t":-8,"r":2},{"t":58,"r":2},{"t":171,"r":2},{"t":274,"r":2},{"t":398,"r":2},
{"t":-483,"r":3},{"t":-247,"r":3},{"t":-198,"r":3},{"t":-156,"r":3},{"t":-109,"r":3},{"t":-72,"r":3},{"t":-26,"r":3},{"t":37,"r":3},{"t":132,"r":3},{"t":231,"r":3},{"t":417,"r":3},{"t":478,"r":3},
{"t":-376,"r":4},{"t":-228,"r":4},{"t":-171,"r":4},{"t":-133,"r":4},{"t":-88,"r":4},{"t":-47,"r":4},{"t":4,"r":4},{"t":76,"r":4},{"t":159,"r":4},{"t":312,"r":4},
{"t":-452,"r":5},{"t":-305,"r":5},{"t":-213,"r":5},{"t":-179,"r":5},{"t":-146,"r":5},{"t":-115,"r":5},{"t":-81,"r":5},{"t":-52,"r":5},{"t":-18,"r":5},{"t":23,"r":5},{"t":104,"r":5},{"t":208,"r":5},{"t":373,"r":5},{"t":461,"r":5},
{"t":-417,"r":6},{"t":-262,"r":6},{"t":-193,"r":6},{"t":-153,"r":6},{"t":-121,"r":6},{"t":-67,"r":6},{"t":-29,"r":6},{"t":44,"r":6},{"t":117,"r":6},{"t":252,"r":6},{"t":431,"r":6},
{"t":-489,"r":7},{"t":-338,"r":7},{"t":-241,"r":7},{"t":-206,"r":7},{"t":-168,"r":7},{"t":-136,"r":7},{"t":-102,"r":7},{"t":-58,"r":7},{"t":-13,"r":7},{"t":31,"r":7},{"t":93,"r":7},{"t":186,"r":7},{"t":297,"r":7},
{"t":-393,"r":8},{"t":-287,"r":8},{"t":-229,"r":8},{"t":-182,"r":8},{"t":-143,"r":8},{"t":-97,"r":8},{"t":-64,"r":8},{"t":-21,"r":8},{"t":16,"r":8},{"t":69,"r":8},{"t":143,"r":8},{"t":229,"r":8},{"t":356,"r":8},{"t":484,"r":8},
{"t":-458,"r":9},{"t":-351,"r":9},{"t":-269,"r":9},{"t":-217,"r":9},{"t":-176,"r":9},{"t":-138,"r":9},{"t":-101,"r":9},{"t":-73,"r":9},{"t":-35,"r":9},{"t":8,"r":9},{"t":51,"r":9},{"t":124,"r":9},{"t":211,"r":9},{"t":318,"r":9},{"t":441,"r":9},
{"t":-427,"r":10},{"t":-311,"r":10},{"t":-258,"r":10},{"t":-207,"r":10},{"t":-163,"r":10},{"t":-127,"r":10},{"t":-86,"r":10},{"t":-49,"r":10},{"t":-11,"r":10},{"t":34,"r":10},{"t":87,"r":10},{"t":167,"r":10},{"t":263,"r":10},{"t":387,"r":10},
{"t":-495,"r":11},{"t":-372,"r":11},{"t":-292,"r":11},{"t":-241,"r":11},{"t":-196,"r":11},{"t":-154,"r":11},{"t":-118,"r":11},{"t":-79,"r":11},{"t":-42,"r":11},{"t":-4,"r":11},{"t":41,"r":11},{"t":103,"r":11},{"t":184,"r":11},{"t":276,"r":11},{"t":462,"r":11},
{"t":-441,"r":12},{"t":-336,"r":12},{"t":-277,"r":12},{"t":-226,"r":12},{"t":-186,"r":12},{"t":-147,"r":12},{"t":-108,"r":12},{"t":-68,"r":12},{"t":-31,"r":12},{"t":13,"r":12},{"t":62,"r":12},{"t":131,"r":12},{"t":219,"r":12},{"t":331,"r":12},
{"t":-404,"r":13},{"t":-319,"r":13},{"t":-261,"r":13},{"t":-214,"r":13},{"t":-172,"r":13},{"t":-133,"r":13},{"t":-93,"r":13},{"t":-56,"r":13},{"t":-17,"r":13},{"t":27,"r":13},{"t":79,"r":13},{"t":152,"r":13},{"t":242,"r":13},{"t":373,"r":13},{"t":496,"r":13},
{"t":-472,"r":14},{"t":-358,"r":14},{"t":-285,"r":14},{"t":-233,"r":14},{"t":-189,"r":14},{"t":-149,"r":14},{"t":-111,"r":14},{"t":-74,"r":14},{"t":-37,"r":14},{"t":4,"r":14},{"t":52,"r":14},{"t":118,"r":14},{"t":197,"r":14},{"t":289,"r":14},{"t":419,"r":14},
{"t":-433,"r":15},{"t":-327,"r":15},{"t":-268,"r":15},{"t":-220,"r":15},{"t":-178,"r":15},{"t":-139,"r":15},{"t":-100,"r":15},{"t":-61,"r":15},{"t":-23,"r":15},{"t":21,"r":15},{"t":71,"r":15},{"t":141,"r":15},{"t":228,"r":15},{"t":344,"r":15},
{"t":-386,"r":16},{"t":-301,"r":16},{"t":-249,"r":16},{"t":-204,"r":16},{"t":-163,"r":16},{"t":-124,"r":16},{"t":-86,"r":16},{"t":-47,"r":16},{"t":-8,"r":16},{"t":36,"r":16},{"t":92,"r":16},{"t":163,"r":16},{"t":259,"r":16},{"t":402,"r":16},{"t":477,"r":16},
{"t":-461,"r":17},{"t":-343,"r":17},{"t":-276,"r":17},{"t":-226,"r":17},{"t":-184,"r":17},{"t":-144,"r":17},{"t":-106,"r":17},{"t":-68,"r":17},{"t":-29,"r":17},{"t":14,"r":17},{"t":64,"r":17},{"t":127,"r":17},{"t":208,"r":17},{"t":311,"r":17},
{"t":-419,"r":18},{"t":-318,"r":18},{"t":-259,"r":18},{"t":-211,"r":18},{"t":-170,"r":18},{"t":-131,"r":18},{"t":-92,"r":18},{"t":-54,"r":18},{"t":-14,"r":18},{"t":29,"r":18},{"t":83,"r":18},{"t":156,"r":18},{"t":247,"r":18},{"t":367,"r":18},{"t":446,"r":18},
{"t":-488,"r":19},{"t":-366,"r":19},{"t":-289,"r":19},{"t":-236,"r":19},{"t":-192,"r":19},{"t":-152,"r":19},{"t":-114,"r":19},{"t":-76,"r":19},{"t":-37,"r":19},{"t":6,"r":19},{"t":56,"r":19},{"t":121,"r":19},{"t":202,"r":19},{"t":298,"r":19},{"t":413,"r":19},
{"t":-447,"r":20},{"t":-339,"r":20},{"t":-272,"r":20},{"t":-222,"r":20},{"t":-180,"r":20},{"t":-140,"r":20},{"t":-101,"r":20},{"t":-63,"r":20},{"t":-25,"r":20},{"t":19,"r":20},{"t":73,"r":20},{"t":146,"r":20},{"t":234,"r":20},{"t":352,"r":20},{"t":471,"r":20},
{"t":-405,"r":21},{"t":-312,"r":21},{"t":-256,"r":21},{"t":-208,"r":21},{"t":-167,"r":21},{"t":-128,"r":21},{"t":-89,"r":21},{"t":-51,"r":21},{"t":-12,"r":21},{"t":33,"r":21},{"t":88,"r":21},{"t":162,"r":21},{"t":256,"r":21},{"t":388,"r":21},
{"t":-476,"r":22},{"t":-361,"r":22},{"t":-284,"r":22},{"t":-232,"r":22},{"t":-188,"r":22},{"t":-148,"r":22},{"t":-110,"r":22},{"t":-71,"r":22},{"t":-33,"r":22},{"t":11,"r":22},{"t":61,"r":22},{"t":128,"r":22},{"t":213,"r":22},{"t":321,"r":22},{"t":437,"r":22},
{"t":-438,"r":23},{"t":-369,"r":23},{"t":-302,"r":23},{"t":-251,"r":23},{"t":-206,"r":23},{"t":-165,"r":23},{"t":-125,"r":23},{"t":-86,"r":23},{"t":-47,"r":23},{"t":-6,"r":23},{"t":42,"r":23},{"t":101,"r":23},{"t":176,"r":23},{"t":267,"r":23},{"t":382,"r":23},{"t":493,"r":23},
{"t":-495,"r":24},{"t":-449,"r":24},{"t":-401,"r":24},{"t":-352,"r":24},{"t":-307,"r":24},{"t":-263,"r":24},{"t":-221,"r":24},{"t":-181,"r":24},{"t":-141,"r":24},{"t":-102,"r":24},{"t":-63,"r":24},{"t":-22,"r":24},{"t":24,"r":24},{"t":82,"r":24},{"t":157,"r":24},{"t":246,"r":24},{"t":354,"r":24},{"t":458,"r":24},
{"t":-481,"r":25},{"t":-432,"r":25},{"t":-385,"r":25},{"t":-337,"r":25},{"t":-291,"r":25},{"t":-248,"r":25},{"t":-206,"r":25},{"t":-166,"r":25},{"t":-126,"r":25},{"t":-87,"r":25},{"t":-47,"r":25},{"t":-6,"r":25},{"t":43,"r":25},{"t":106,"r":25},{"t":187,"r":25},{"t":283,"r":25},{"t":396,"r":25},
{"t":-466,"r":26},{"t":-418,"r":26},{"t":-370,"r":26},{"t":-323,"r":26},{"t":-278,"r":26},{"t":-235,"r":26},{"t":-193,"r":26},{"t":-153,"r":26},{"t":-113,"r":26},{"t":-73,"r":26},{"t":-33,"r":26},{"t":9,"r":26},{"t":61,"r":26},{"t":128,"r":26},{"t":213,"r":26},{"t":312,"r":26},{"t":428,"r":26},
{"t":-499,"r":27},{"t":-451,"r":27},{"t":-404,"r":27},{"t":-356,"r":27},{"t":-309,"r":27},{"t":-265,"r":27},{"t":-222,"r":27},{"t":-181,"r":27},{"t":-141,"r":27},{"t":-101,"r":27},{"t":-61,"r":27},{"t":-19,"r":27},{"t":28,"r":27},{"t":89,"r":27},{"t":168,"r":27},{"t":264,"r":27},{"t":373,"r":27},{"t":479,"r":27},
{"t":-487,"r":28},{"t":-438,"r":28},{"t":-391,"r":28},{"t":-343,"r":28},{"t":-297,"r":28},{"t":-253,"r":28},{"t":-210,"r":28},{"t":-169,"r":28},{"t":-129,"r":28},{"t":-89,"r":28},{"t":-49,"r":28},{"t":-7,"r":28},{"t":44,"r":28},{"t":111,"r":28},{"t":196,"r":28},{"t":297,"r":28},{"t":412,"r":28},
{"t":-472,"r":29},{"t":-424,"r":29},{"t":-376,"r":29},{"t":-329,"r":29},{"t":-284,"r":29},{"t":-241,"r":29},{"t":-198,"r":29},{"t":-157,"r":29},{"t":-117,"r":29},{"t":-77,"r":29},{"t":-36,"r":29},{"t":7,"r":29},{"t":63,"r":29},{"t":137,"r":29},{"t":228,"r":29},{"t":337,"r":29},{"t":451,"r":29},
{"t":-493,"r":30},{"t":-445,"r":30},{"t":-397,"r":30},{"t":-350,"r":30},{"t":-303,"r":30},{"t":-259,"r":30},{"t":-216,"r":30},{"t":-175,"r":30},{"t":-134,"r":30},{"t":-94,"r":30},{"t":-54,"r":30},{"t":-12,"r":30},{"t":36,"r":30},{"t":98,"r":30},{"t":179,"r":30},{"t":276,"r":30},{"t":389,"r":30},
{"t":-484,"r":31},{"t":-436,"r":31},{"t":-388,"r":31},{"t":-341,"r":31},{"t":-294,"r":31},{"t":-250,"r":31},{"t":-207,"r":31},{"t":-166,"r":31},{"t":-125,"r":31},{"t":-84,"r":31},{"t":-43,"r":31},{"t":1,"r":31},{"t":53,"r":31},{"t":121,"r":31},{"t":207,"r":31},{"t":309,"r":31},{"t":436,"r":31},
{"t":-490,"r":32},{"t":-441,"r":32},{"t":-393,"r":32},{"t":-346,"r":32},{"t":-299,"r":32},{"t":-255,"r":32},{"t":-212,"r":32},{"t":-171,"r":32},{"t":-130,"r":32},{"t":-90,"r":32},{"t":-50,"r":32},{"t":-8,"r":32},{"t":40,"r":32},{"t":104,"r":32},{"t":188,"r":32},{"t":289,"r":32},{"t":404,"r":32}
],
"BL":[
{"t":-500,"v":15},{"t":-490,"v":19},{"t":-480,"v":23},{"t":-470,"v":21},{"t":-460,"v":20},{"t":-450,"v":13},{"t":-440,"v":21},{"t":-430,"v":20},{"t":-420,"v":19},{"t":-410,"v":19},{"t":-400,"v":19},{"t":-390,"v":20},{"t":-380,"v":20},{"t":-370,"v":22},{"t":-360,"v":28},{"t":-350,"v":35},{"t":-340,"v":34},{"t":-330,"v":22},{"t":-320,"v":30},{"t":-310,"v":42},{"t":-300,"v":36},{"t":-290,"v":35},{"t":-280,"v":33},{"t":-270,"v":39},{"t":-260,"v":50},{"t":-250,"v":40},{"t":-240,"v":46},{"t":-230,"v":44},{"t":-220,"v":54},{"t":-210,"v":52},{"t":-200,"v":64},{"t":-190,"v":58},{"t":-180,"v":58},{"t":-170,"v":71},{"t":-160,"v":68},{"t":-150,"v":70},{"t":-140,"v":73},{"t":-130,"v":82},{"t":-120,"v":80},{"t":-110,"v":70},{"t":-100,"v":79},{"t":-90,"v":72},{"t":-80,"v":60},{"t":-70,"v":52},{"t":-60,"v":45},{"t":-50,"v":40},{"t":-40,"v":46},{"t":-30,"v":52},{"t":-20,"v":43},{"t":-10,"v":55},{"t":0,"v":55},{"t":10,"v":50},{"t":20,"v":75},{"t":30,"v":52},{"t":40,"v":56},{"t":50,"v":55},{"t":60,"v":50},{"t":70,"v":60},{"t":80,"v":58},{"t":90,"v":37},{"t":100,"v":48},{"t":110,"v":43},{"t":120,"v":38},{"t":130,"v":53},{"t":140,"v":52},{"t":150,"v":31},{"t":160,"v":40},{"t":170,"v":31},{"t":180,"v":35},{"t":190,"v":29},{"t":200,"v":44},{"t":210,"v":36},{"t":220,"v":34},{"t":230,"v":31},{"t":240,"v":42},{"t":250,"v":24},{"t":260,"v":23},{"t":270,"v":24},{"t":280,"v":19},{"t":290,"v":17},{"t":300,"v":21},{"t":310,"v":22},{"t":320,"v":21},{"t":330,"v":14},{"t":340,"v":15},{"t":350,"v":16},{"t":360,"v":18},{"t":370,"v":13},{"t":380,"v":15},{"t":390,"v":18},{"t":400,"v":16},{"t":410,"v":15},{"t":420,"v":10},{"t":430,"v":13},{"t":440,"v":10},{"t":450,"v":8},{"t":460,"v":12},{"t":470,"v":10},{"t":480,"v":11},{"t":490,"v":14},{"t":500,"v":14}
],
"GL":[
{"t":-500,"v":13},{"t":-490,"v":16},{"t":-480,"v":15},{"t":-470,"v":18},{"t":-460,"v":15},{"t":-450,"v":12},{"t":-440,"v":16},{"t":-430,"v":20},{"t":-420,"v":19},{"t":-410,"v":21},{"t":-400,"v":19},{"t":-390,"v":13},{"t":-380,"v":33},{"t":-370,"v":21},{"t":-360,"v":45},{"t":-350,"v":29},{"t":-340,"v":35},{"t":-330,"v":35},{"t":-320,"v":34},{"t":-310,"v":41},{"t":-300,"v":37},{"t":-290,"v":45},{"t":-280,"v":38},{"t":-270,"v":34},{"t":-260,"v":34},{"t":-250,"v":40},{"t":-240,"v":38},{"t":-230,"v":24},{"t":-220,"v":46},{"t":-210,"v":40},{"t":-200,"v":51},{"t":-190,"v":44},{"t":-180,"v":41},{"t":-170,"v":51},{"t":-160,"v":48},{"t":-150,"v":58},{"t":-140,"v":53},{"t":-130,"v":53},{"t":-120,"v":47},{"t":-110,"v":55},{"t":-100,"v":53},{"t":-90,"v":45},{"t":-80,"v":41},{"t":-70,"v":41},{"t":-60,"v":37},{"t":-50,"v":32},{"t":-40,"v":38},{"t":-30,"v":41},{"t":-20,"v":41},{"t":-10,"v":40},{"t":0,"v":49},{"t":10,"v":44},{"t":20,"v":45},{"t":30,"v":48},{"t":40,"v":45},{"t":50,"v":44},{"t":60,"v":51},{"t":70,"v":46},{"t":80,"v":37},{"t":90,"v":35},{"t":100,"v":29},{"t":110,"v":36},{"t":120,"v":29},{"t":130,"v":30},{"t":140,"v":29},{"t":150,"v":19},{"t":160,"v":25},{"t":170,"v":29},{"t":180,"v":41},{"t":190,"v":28},{"t":200,"v":13},{"t":210,"v":25},{"t":220,"v":34},{"t":230,"v":31},{"t":240,"v":22},{"t":250,"v":31},{"t":260,"v":24},{"t":270,"v":15},{"t":280,"v":18},{"t":290,"v":16},{"t":300,"v":14},{"t":310,"v":19},{"t":320,"v":14},{"t":330,"v":26},{"t":340,"v":20},{"t":350,"v":18},{"t":360,"v":12},{"t":370,"v":25},{"t":380,"v":22},{"t":390,"v":25},{"t":400,"v":15},{"t":410,"v":16},{"t":420,"v":17},{"t":430,"v":22},{"t":440,"v":18},{"t":450,"v":16},{"t":460,"v":15},{"t":470,"v":19},{"t":480,"v":19},{"t":490,"v":20},{"t":500,"v":22}
],
"RL":[
{"t":-500,"v":26},{"t":-490,"v":28},{"t":-480,"v":28},{"t":-470,"v":28},{"t":-460,"v":19},{"t":-450,"v":21},{"t":-440,"v":25},{"t":-430,"v":23},{"t":-420,"v":34},{"t":-410,"v":29},{"t":-400,"v":34},{"t":-390,"v":40},{"t":-380,"v":29},{"t":-370,"v":41},{"t":-360,"v":38},{"t":-350,"v":29},{"t":-340,"v":44},{"t":-330,"v":53},{"t":-320,"v":44},{"t":-310,"v":48},{"t":-300,"v":55},{"t":-290,"v":63},{"t":-280,"v":45},{"t":-270,"v":55},{"t":-260,"v":45},{"t":-250,"v":50},{"t":-240,"v":54},{"t":-230,"v":59},{"t":-220,"v":81},{"t":-210,"v":51},{"t":-200,"v":65},{"t":-190,"v":54},{"t":-180,"v":59},{"t":-170,"v":69},{"t":-160,"v":84},{"t":-150,"v":76},{"t":-140,"v":75},{"t":-130,"v":67},{"t":-120,"v":70},{"t":-110,"v":75},{"t":-100,"v":75},{"t":-90,"v":45},{"t":-80,"v":65},{"t":-70,"v":60},{"t":-60,"v":47},{"t":-50,"v":47},{"t":-40,"v":47},{"t":-30,"v":50},{"t":-20,"v":62},{"t":-10,"v":56},{"t":0,"v":54},{"t":10,"v":66},{"t":20,"v":57},{"t":30,"v":57},{"t":40,"v":63},{"t":50,"v":45},{"t":60,"v":52},{"t":70,"v":41},{"t":80,"v":45},{"t":90,"v":56},{"t":100,"v":31},{"t":110,"v":51},{"t":120,"v":53},{"t":130,"v":26},{"t":140,"v":26},{"t":150,"v":46},{"t":160,"v":23},{"t":170,"v":46},{"t":180,"v":41},{"t":190,"v":37},{"t":200,"v":19},{"t":210,"v":29},{"t":220,"v":29},{"t":230,"v":19},{"t":240,"v":19},{"t":250,"v":29},{"t":260,"v":24},{"t":270,"v":29},{"t":280,"v":37},{"t":290,"v":16},{"t":300,"v":23},{"t":310,"v":19},{"t":320,"v":19},{"t":330,"v":19},{"t":340,"v":21},{"t":350,"v":19},{"t":360,"v":15},{"t":370,"v":14},{"t":380,"v":10},{"t":390,"v":31},{"t":400,"v":21},{"t":410,"v":7},{"t":420,"v":20},{"t":430,"v":29},{"t":440,"v":27},{"t":450,"v":18},{"t":460,"v":19},{"t":470,"v":14},{"t":480,"v":14},{"t":490,"v":16},{"t":500,"v":34}
]
},
"hconcat":[
{"bounds":"flush","spacing":0,"vconcat":[
 {"width":423,"height":122,"layer":[
  {"data":{"name":"B"},"mark":{"type":"circle","size":30,"opacity":1},
   "encoding":{
    "x":{"field":"t","type":"quantitative","scale":{"domain":[-500,500],"nice":false,"zero":false},"axis":{"labels":false,"ticks":false,"title":null}},
    "y":{"field":"r","type":"quantitative","scale":{"domain":[-0.6,65.4],"nice":false,"zero":false},"axis":{"values":[1,20,40,60],"labelOverlap":false,"tickSize":5,"labelPadding":6,"title":"A","titleAngle":0,"titleFont":"Liberation Sans","titleFontSize":20,"titleFontWeight":"bold","titleX":-61,"titleY":10,"titleAlign":"center","titleBaseline":"middle"}},
    "color":{"datum":"go-go (G-block)","type":"nominal","scale":{"domain":["go-go (G-block)","go-go (GS-block)","stop-go (GS-block)"],"range":["#3a6cf4","#38c238","#fb5050"]},
     "legend":{"orient":"none","legendX":-30,"legendY":378,"direction":"horizontal","title":null,"symbolType":"M -0.98 0 A 0.18 0.18 0 1 1 -0.62 0 A 0.18 0.18 0 1 1 -0.98 0 Z M -0.25 0 L 1 0","symbolSize":1156,"symbolStrokeWidth":3,"labelFont":"Lato","labelFontSize":14.5,"labelOffset":4,"columnPadding":11,"padding":0,"labelLimit":300,
      "encode":{"symbols":{"update":{"fill":{"scale":"color","field":"value"},"stroke":{"scale":"color","field":"value"},"opacity":{"value":1}}},"labels":{"update":{"fill":{"scale":"color","field":"value"}}}}}}}},
  {"data":{"values":[{}]},"mark":{"type":"rule","strokeDash":[4,2],"strokeWidth":2,"color":"#111111"},"encoding":{"x":{"datum":0}}}
 ]},
 {"width":423,"height":123,"layer":[
  {"data":{"name":"G"},"mark":{"type":"circle","size":30,"opacity":1},
   "encoding":{
    "x":{"field":"t","type":"quantitative","scale":{"domain":[-500,500],"nice":false,"zero":false},"axis":{"labels":false,"ticks":false,"title":null}},
    "y":{"field":"r","type":"quantitative","scale":{"domain":[0.3,63],"nice":false,"zero":false},"axis":{"values":[1,20,40],"labelOverlap":false,"tickSize":5,"labelPadding":6,"title":"Trials","titleX":-52,"titleY":31,"titleAlign":"center","titleBaseline":"middle","titleAngle":-90}},
    "color":{"datum":"go-go (GS-block)","type":"nominal","scale":{"domain":["go-go (G-block)","go-go (GS-block)","stop-go (GS-block)"],"range":["#3a6cf4","#38c238","#fb5050"]}}}},
  {"data":{"values":[{}]},"mark":{"type":"rule","strokeDash":[4,2],"strokeWidth":2,"color":"#111111"},"encoding":{"x":{"datum":0}}}
 ]},
 {"width":423,"height":67,"layer":[
  {"data":{"name":"R"},"mark":{"type":"circle","size":30,"opacity":1},
   "encoding":{
    "x":{"field":"t","type":"quantitative","scale":{"domain":[-500,500],"nice":false,"zero":false},"axis":{"values":[-500,0,500],"labelOverlap":false,"tickSize":5,"labelPadding":3,"title":"Time from push onset (ms)","titleX":466,"titleY":37,"titleAlign":"center","titleBaseline":"middle","titleAngle":0}},
    "y":{"field":"r","type":"quantitative","scale":{"domain":[-2.3,35.5],"nice":false,"zero":false},"axis":{"values":[1,20],"labelOverlap":false,"tickSize":5,"labelPadding":6,"title":null}},
    "color":{"datum":"stop-go (GS-block)","type":"nominal","scale":{"domain":["go-go (G-block)","go-go (GS-block)","stop-go (GS-block)"],"range":["#3a6cf4","#38c238","#fb5050"]}}}},
  {"data":{"values":[{}]},"mark":{"type":"rule","strokeDash":[4,2],"strokeWidth":2,"color":"#111111"},"encoding":{"x":{"datum":0}}}
 ]}
]},
{"bounds":"flush","spacing":13,"vconcat":[
 {"width":427,"height":149,"layer":[
  {"data":{"name":"BL"},"mark":{"type":"line","strokeWidth":2.8},
   "encoding":{
    "x":{"field":"t","type":"quantitative","scale":{"domain":[-500,500],"nice":false,"zero":false},"axis":{"values":[-500,0,500],"labels":false,"tickSize":5,"title":null}},
    "y":{"field":"v","type":"quantitative","scale":{"domain":[0,89],"nice":false,"zero":false},"axis":{"values":[0,20,40,60,80],"labelOverlap":false,"tickSize":7,"labelPadding":2,"title":"Spike rate (spk/s)","titleX":-45,"titleY":158,"titleAlign":"center","titleBaseline":"middle","titleAngle":-90}},
    "color":{"datum":"go-go (G-block)","type":"nominal","scale":{"domain":["go-go (G-block)","go-go (GS-block)","stop-go (GS-block)"],"range":["#3a6cf4","#38c238","#fb5050"]}}}},
  {"data":{"name":"GL"},"mark":{"type":"line","strokeWidth":2.8},
   "encoding":{
    "x":{"field":"t","type":"quantitative","scale":{"domain":[-500,500],"nice":false,"zero":false},"axis":{"values":[-500,0,500],"labels":false,"tickSize":5,"title":null}},
    "y":{"field":"v","type":"quantitative","scale":{"domain":[0,89],"nice":false,"zero":false},"axis":{"values":[0,20,40,60,80],"labelOverlap":false,"tickSize":7,"labelPadding":2,"title":"Spike rate (spk/s)","titleX":-45,"titleY":158,"titleAlign":"center","titleBaseline":"middle","titleAngle":-90}},
    "color":{"datum":"go-go (GS-block)","type":"nominal","scale":{"domain":["go-go (G-block)","go-go (GS-block)","stop-go (GS-block)"],"range":["#3a6cf4","#38c238","#fb5050"]}}}},
  {"data":{"values":[{}]},"mark":{"type":"rule","strokeWidth":2.5,"color":"#111111"},"encoding":{"x":{"datum":0}}}
 ]},
 {"width":427,"height":149,"layer":[
  {"data":{"name":"GL"},"mark":{"type":"line","strokeWidth":2.8},
   "encoding":{
    "x":{"field":"t","type":"quantitative","scale":{"domain":[-500,500],"nice":false,"zero":false},"axis":{"values":[-500,0,500],"labelOverlap":false,"tickSize":5,"labelPadding":3,"title":null}},
    "y":{"field":"v","type":"quantitative","scale":{"domain":[0,89],"nice":false,"zero":false},"axis":{"values":[0,20,40,60,80],"labelOverlap":false,"tickSize":7,"labelPadding":2,"title":null}},
    "color":{"datum":"go-go (GS-block)","type":"nominal","scale":{"domain":["go-go (G-block)","go-go (GS-block)","stop-go (GS-block)"],"range":["#3a6cf4","#38c238","#fb5050"]}}}},
  {"data":{"name":"RL"},"mark":{"type":"line","strokeWidth":2.8},
   "encoding":{
    "x":{"field":"t","type":"quantitative","scale":{"domain":[-500,500],"nice":false,"zero":false},"axis":{"values":[-500,0,500],"labelOverlap":false,"tickSize":5,"labelPadding":3,"title":null}},
    "y":{"field":"v","type":"quantitative","scale":{"domain":[0,89],"nice":false,"zero":false},"axis":{"values":[0,20,40,60,80],"labelOverlap":false,"tickSize":7,"labelPadding":2,"title":null}},
    "color":{"datum":"stop-go (GS-block)","type":"nominal","scale":{"domain":["go-go (G-block)","go-go (GS-block)","stop-go (GS-block)"],"range":["#3a6cf4","#38c238","#fb5050"]}}}},
  {"data":{"values":[{}]},"mark":{"type":"rule","strokeWidth":2.5,"color":"#111111"},"encoding":{"x":{"datum":0}}}
 ]}
]}
]
}
